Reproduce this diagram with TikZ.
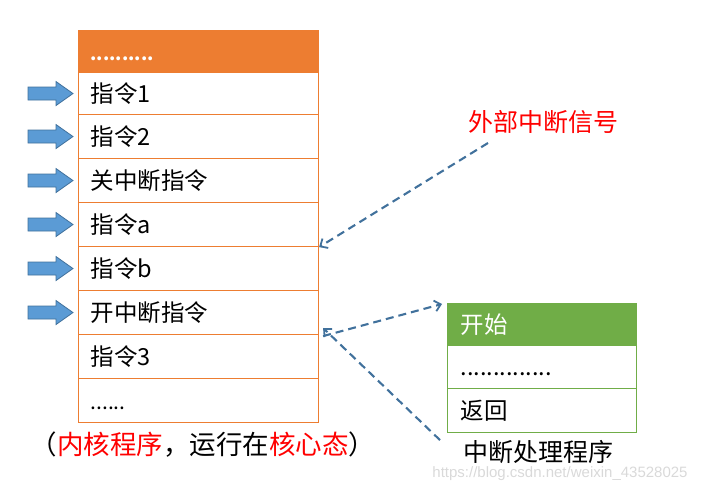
\documentclass[tikz,border=0pt]{standalone}
\usepackage{fontspec}
\setmainfont{Carlito}
\newfontfamily\cjk{Noto Sans CJK SC}
\newfontfamily\wmfont{Liberation Sans}
\usetikzlibrary{arrows.meta}
\definecolor{orng}{HTML}{ED7D31}
\definecolor{grn}{HTML}{70AD47}
\definecolor{blu}{HTML}{5B9BD5}
\definecolor{bluedge}{HTML}{41719C}
\definecolor{dashc}{HTML}{41719C}
\definecolor{redtxt}{HTML}{FF0000}
\tikzset{
  rowbox/.style={draw=orng, line width=1.1pt, anchor=north west, minimum height=44pt,
    text width=216pt, inner xsep=12pt, inner ysep=0pt, align=left,
    text height=20pt, text depth=3pt,
    font=\cjk\fontsize{23.5}{27}\selectfont},
  headbox/.style={rowbox, fill=orng, minimum height=42pt, text=white},
  gbox/.style={draw=grn, line width=1.1pt, anchor=north west, minimum height=43pt,
    text width=163pt, inner xsep=13pt, inner ysep=0pt, align=left,
    text height=20pt, text depth=3pt,
    font=\cjk\fontsize{23.5}{27}\selectfont},
  gheadbox/.style={gbox, fill=grn, minimum height=42pt, text=white},
  dasharrow/.style={draw=dashc, line width=2.1pt, dash pattern=on 8pt off 5pt,
    -{Straight Barb[length=6pt,width=11pt,line width=1.8pt]}},
  blockarrow/.style={fill=blu, draw=bluedge, line width=0.8pt},
  lbl/.style={font=\cjk\fontsize{25}{30}\selectfont, inner sep=0pt}
}
\begin{document}
\begin{tikzpicture}[x=1pt,y=-1pt]
\useasboundingbox (0,0) rectangle (705,494);
% left table
\node[headbox] (h) at (78,30) {{\fontsize{18}{20}\selectfont\bfseries ..........}};
\node[rowbox, minimum height=42pt] (r1) at (78,72) {指令1};
\node[rowbox] (r2) at (78,114) {指令2};
\node[rowbox] (r3) at (78,158) {关中断指令};
\node[rowbox] (r4) at (78,202) {指令a};
\node[rowbox] (r5) at (78,246) {指令b};
\node[rowbox] (r6) at (78,290) {开中断指令};
\node[rowbox] (r7) at (78,334) {指令3};
\node[rowbox] (r8) at (78,378) {{\fontsize{21}{24}\selectfont ......}};
% block arrows
\foreach \r in {r1,r2,r3,r4,r5,r6}{
  \path (\r.west) coordinate (tip\r);
  \draw[blockarrow] ([xshift=-50pt,yshift=-6.5pt]tip\r) -- ([xshift=-22pt,yshift=-6.5pt]tip\r)
    -- ([xshift=-22pt,yshift=-12pt]tip\r) -- ([xshift=-5pt]tip\r)
    -- ([xshift=-22pt,yshift=12pt]tip\r) -- ([xshift=-22pt,yshift=6.5pt]tip\r)
    -- ([xshift=-50pt,yshift=6.5pt]tip\r) -- cycle;
}
% caption
\node[lbl, font=\cjk\fontsize{26.5}{30}\selectfont] (cap) at (203,445)
  {（\textcolor{redtxt}{内核程序}，运行在\textcolor{redtxt}{核心态}）};
% external interrupt
\node[lbl, text=redtxt] (ext) at (543,122) {外部中断信号};
\coordinate (extstart) at (488,143);
\draw[dasharrow] (extstart) -- (r4.south east);
% green table
\node[gheadbox] (g1) at (447,303) {开始};
\node[gbox] (g2) at (447,345) {..............};
\node[gbox, minimum height=44pt] (g3) at (447,388) {返回};
\node[lbl] (gcap) at (538,452) {中断处理程序};
% dashed arrows
\draw[dasharrow] ([xshift=4pt,yshift=-1pt]r6.south east) -- ([xshift=-5pt,yshift=-1pt]g1.north west);
\draw[dasharrow] ([xshift=-7pt,yshift=-7pt]g3.south west) -- ([xshift=4pt,yshift=6pt]r7.north east);
% watermark
\node[font=\wmfont\fontsize{15}{18}\selectfont, text=black!15, inner sep=0pt] (wm) at (560,474) {https://blog.csdn.net/weixin\_43528025};
\end{tikzpicture}
\end{document}
